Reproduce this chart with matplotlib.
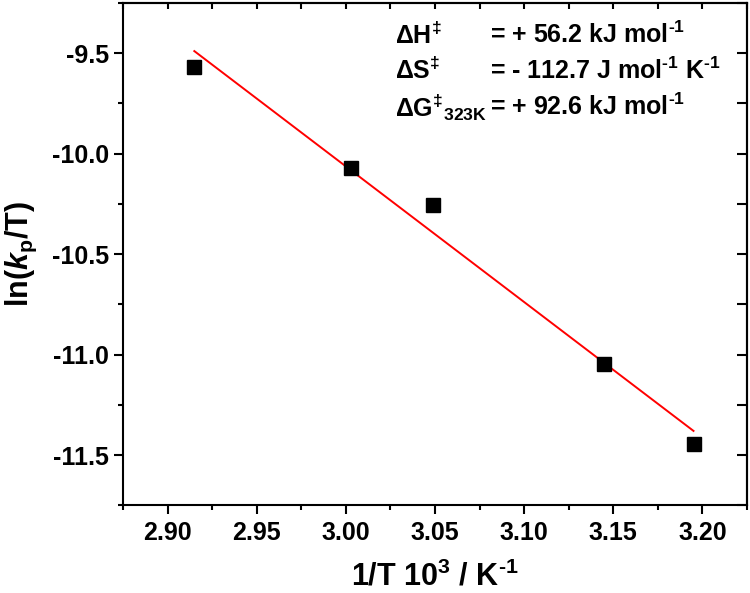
import matplotlib
matplotlib.use('Agg')
import matplotlib.pyplot as plt
import numpy as np

# Eyring plot data
inv_T = [2.915, 3.003, 3.049, 3.145, 3.195]
ln_kp_T = [-9.570, -10.071, -10.255, -11.047, -11.447]

labels = ['ΔH$^{‡}$', 'ΔS$^{‡}$', 'ΔG$^{‡}{}_{\\mathrm{323K}}$']
values = ['= + 56.2 kJ mol$^{\\text{-1}}$',
          '= - 112.7 J mol$^{\\text{-1}}$ K$^{\\text{-1}}$',
          '= + 92.6 kJ mol$^{\\text{-1}}$']

plt.rcParams['font.family'] = ['Liberation Sans', 'DejaVu Sans']
plt.rcParams['font.weight'] = 'bold'
plt.rcParams['mathtext.fontset'] = 'custom'
plt.rcParams['mathtext.rm'] = 'Liberation Sans:bold'
plt.rcParams['mathtext.bf'] = 'Liberation Sans:bold'
plt.rcParams['mathtext.it'] = 'Liberation Sans:italic:bold'
plt.rcParams['mathtext.default'] = 'rm'
plt.rcParams['axes.unicode_minus'] = False

fig = plt.figure(figsize=(7.5, 5.93), dpi=100)
ax = fig.add_axes([0.164, 0.148, 0.832, 0.847])

ax.plot(inv_T, ln_kp_T, 's', color='black', markersize=9.5, zorder=3)

# linear fit
slope, icpt = np.polyfit(inv_T, ln_kp_T, 1)
xf = np.array([inv_T[0], inv_T[-1]])
ax.plot(xf, slope * xf + icpt, '-', color='red', lw=1.4, zorder=2)

ax.set_xlim(2.875, 3.225)
ax.set_ylim(-11.75, -9.25)
ax.set_xticks(np.arange(2.90, 3.201, 0.05))
ax.set_xticks(np.arange(2.875, 3.226, 0.025), minor=True)
ax.set_yticks([-9.5, -10.0, -10.5, -11.0, -11.5])
ax.set_yticks(np.arange(-11.75, -9.24, 0.25), minor=True)
ax.xaxis.set_major_formatter(matplotlib.ticker.FormatStrFormatter('%.2f'))
ax.yaxis.set_major_formatter(matplotlib.ticker.FormatStrFormatter('%.1f'))

for s in ax.spines.values():
    s.set_linewidth(1.5)
ax.tick_params(which='major', direction='out', length=6.5, width=1.5, labelsize=18)
ax.tick_params(axis='x', which='major', pad=5)
ax.tick_params(axis='y', which='major', pad=3.5)
ax.tick_params(which='minor', direction='out', length=3.5, width=1.5)
ax.tick_params(which='both', top=False, right=False)

# inward ticks on top and right
sec_x = ax.secondary_xaxis('top')
sec_x.set_xticks(np.arange(2.875, 3.226, 0.025))
sec_x.tick_params(direction='in', length=4, width=1.5, labeltop=False)
sec_y = ax.secondary_yaxis('right')
sec_y.set_yticks(np.arange(-11.75, -9.24, 0.25))
sec_y.tick_params(direction='in', length=7, width=1.5, labelright=False)
sec_x.spines['top'].set_linewidth(1.5)
sec_y.spines['right'].set_linewidth(1.5)

ax.set_xlabel('1/T 10$^{3}$ / K$^{\\text{-1}}$', fontsize=22, fontweight='bold', va='center')
ax.xaxis.set_label_coords(0.5, -0.143)
ax.set_ylabel('ln($\\mathit{k}_{\\mathrm{p}}$/T)', fontsize=22, fontweight='bold', va='center')
ax.yaxis.set_label_coords(-0.163, 0.5)

ys = [0.936, 0.865, 0.793]
for lab, val, y in zip(labels, values, ys):
    ax.text(0.436, y, lab, transform=ax.transAxes, fontsize=18, fontweight='bold', va='center')
    ax.text(0.588, y, val, transform=ax.transAxes, fontsize=18, fontweight='bold', va='center')

fig.savefig('out.png', dpi=100)
